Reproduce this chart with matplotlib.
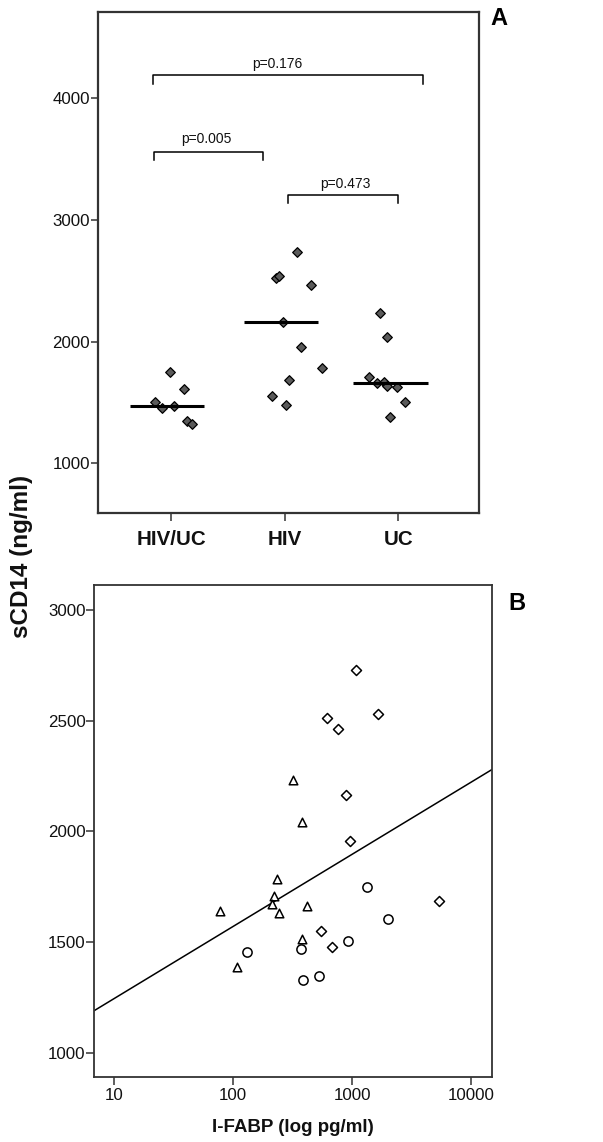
import numpy as np
import matplotlib
matplotlib.use("Agg")
import matplotlib.pyplot as plt
from matplotlib import font_manager
from matplotlib.ticker import FixedLocator, NullLocator

# panel A: sCD14 by group (x = jittered category position)
groups = ["HIV/UC", "HIV", "UC"]
hivuc_x = [0.99, 1.11, 0.86, 0.92, 1.02, 1.14, 1.18]
hivuc_y = [1748, 1608, 1506, 1457, 1471, 1348, 1323]
hiv_x = [2.11, 1.92, 1.95, 2.23, 1.98, 2.14, 2.33, 2.04, 1.89, 2.01]
hiv_y = [2735, 2521, 2537, 2466, 2163, 1958, 1781, 1687, 1551, 1477]
uc_x = [2.84, 2.90, 2.74, 2.81, 2.87, 2.90, 2.99, 3.06, 2.93]
uc_y = [2233, 2040, 1709, 1657, 1671, 1635, 1630, 1506, 1383]
medians = [1468, 2161, 1662]
median_spans = [(0.64, 1.29), (1.64, 2.29), (2.60, 3.26)]

# significance brackets: (left, right, height, tick bottom, label, label x, label y)
brackets = [
    (0.84, 3.22, 4187, 4116, "p=0.176", 1.93, 4244),
    (0.85, 1.81, 3554, 3490, "p=0.005", 1.31, 3628),
    (2.03, 3.00, 3202, 3136, "p=0.473", 2.53, 3258),
]

# panel B: sCD14 vs I-FABP
diam_fabp = [1069, 1633, 617, 762, 885, 955, 5360, 542, 675]
diam_cd14 = [2730, 2530, 2511, 2461, 2164, 1958, 1685, 1549, 1477]
tri_fabp = [316, 378, 232, 220, 210, 241, 414, 78, 376, 108]
tri_cd14 = [2232, 2043, 1784, 1709, 1670, 1632, 1661, 1641, 1512, 1387]
circ_fabp = [1321, 2009, 914, 130, 369, 387, 528]
circ_cd14 = [1748, 1605, 1503, 1454, 1467, 1327, 1347]
fit_intercept = 919.0
fit_slope = 326.0  # per log10 unit

names = {f.name for f in font_manager.fontManager.ttflist}
if "Liberation Sans Narrow" in names:
    NARROW = "Liberation Sans Narrow"
    k = 1.0
else:
    NARROW = "Liberation Sans"
    k = 0.87
WIDE = "Liberation Sans"

plt.rcParams["font.family"] = [WIDE, "DejaVu Sans"]

W, H = 603, 1142
fig = plt.figure(figsize=(W / 100, H / 100), dpi=100)


def px_axes(l, t, r, b):
    return fig.add_axes([l / W, 1 - b / H, (r - l) / W, (b - t) / H])


frame_col = "#333333"

# ---- panel A
ax = px_axes(98, 12, 479, 513)
ax.set_xlim(0.354, 3.71)
ax.set_ylim(592, 4707)
for s in ax.spines.values():
    s.set_linewidth(1.6)
    s.set_color(frame_col)

mk = dict(marker="D", s=24, facecolor="#5a5a5a", edgecolor="black", linewidths=0.9, zorder=3)
ax.scatter(hivuc_x, hivuc_y, **mk)
ax.scatter(hiv_x, hiv_y, **mk)
ax.scatter(uc_x, uc_y, **mk)
for (x0, x1), m in zip(median_spans, medians):
    ax.plot([x0, x1], [m, m], color="black", lw=2.2, zorder=4, solid_capstyle="butt")

for x0, x1, yh, yb, lab, tx, ty in brackets:
    ax.plot([x0, x0, x1, x1], [yb, yh, yh, yb], color="black", lw=1.1)
    ax.text(tx, ty, lab, ha="center", va="baseline", fontsize=11.5 * k,
            family=NARROW, color="#111111")

ax.set_yticks([1000, 2000, 3000, 4000])
ax.set_xticks([1, 2, 3])
ax.set_xticklabels(groups, fontsize=17 * k, fontweight="bold", family=NARROW)
for t in ax.get_yticklabels():
    t.set_fontsize(14 * k)
    t.set_family(NARROW)
ax.tick_params(axis="y", length=5, width=1.1, pad=0.8, colors=frame_col, labelcolor="#111111")
ax.tick_params(axis="x", length=6, width=1.1, pad=6.5, colors=frame_col, labelcolor="#111111")

# ---- panel B
bx = px_axes(94.3, 585, 492, 1077.3)
bx.set_xscale("log")
bx.set_xlim(6.8, 14900)
bx.set_ylim(889, 3113)
for s in bx.spines.values():
    s.set_linewidth(1.3)
    s.set_color(frame_col)

xs = np.array(bx.get_xlim())
bx.plot(xs, fit_intercept + fit_slope * np.log10(xs), color="black", lw=1.1, zorder=2)

bx.scatter(diam_fabp, diam_cd14, marker="D", s=26, facecolor="white", edgecolor="black",
           linewidths=1.1, zorder=3)
bx.scatter(tri_fabp, tri_cd14, marker="^", s=38, facecolor="white", edgecolor="black",
           linewidths=1.1, zorder=3)
bx.scatter(circ_fabp, circ_cd14, marker="o", s=44, facecolor="white", edgecolor="black",
           linewidths=1.1, zorder=3)

bx.xaxis.set_major_locator(FixedLocator([10, 100, 1000, 10000]))
bx.xaxis.set_minor_locator(NullLocator())
bx.set_xticklabels(["10", "100", "1000", "10000"])
bx.set_yticks([1000, 1500, 2000, 2500, 3000])
for t in bx.get_xticklabels() + bx.get_yticklabels():
    t.set_fontsize(14 * k)
    t.set_family(NARROW)
bx.tick_params(axis="y", length=5.5, width=1.1, pad=0.8, colors=frame_col, labelcolor="#111111")
bx.tick_params(axis="x", length=5.5, width=1.1, pad=2, colors=frame_col, labelcolor="#111111")

fig.text(293 / W, 1 - 1128 / H, "I-FABP (log pg/ml)", ha="center", va="center",
         fontsize=13.5, fontweight="bold", color="#111111")
fig.text(22 / W, 1 - 556 / H, "sCD14 (ng/ml)", ha="center", va="center", rotation=90,
         fontsize=17.5, fontweight="bold", color="#111111")
fig.text(499 / W, 1 - 18.5 / H, "A", ha="center", va="center", fontsize=17, fontweight="bold")
fig.text(517 / W, 1 - 603 / H, "B", ha="center", va="center", fontsize=17, fontweight="bold")

fig.savefig("out.png", dpi=100)
